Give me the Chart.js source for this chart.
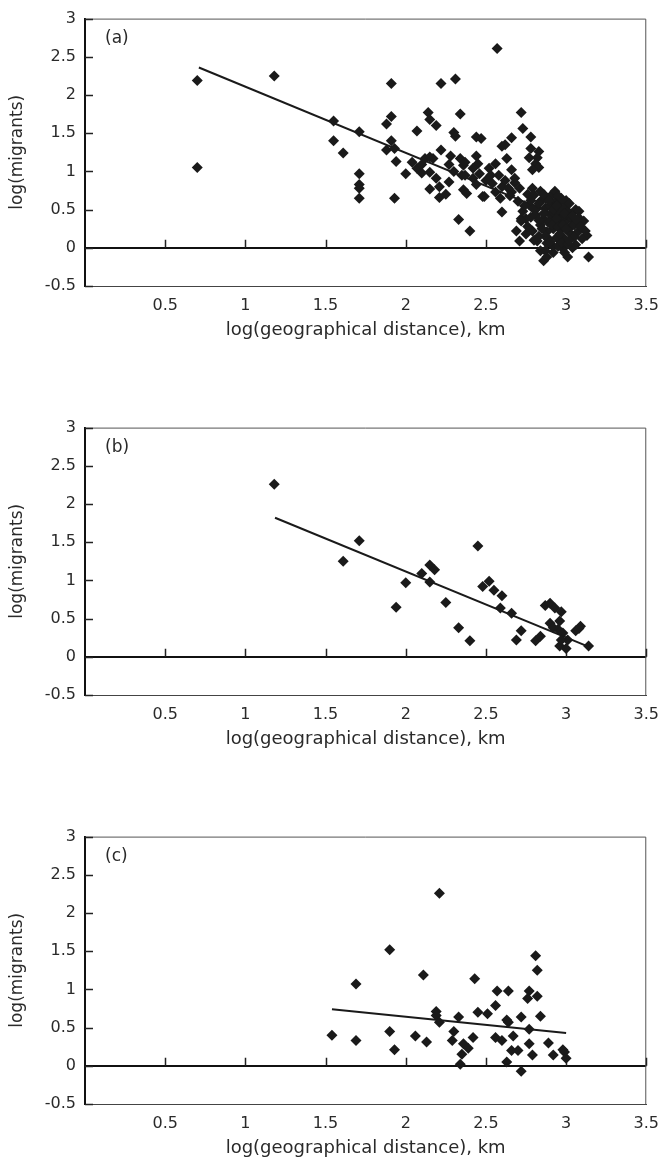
<!DOCTYPE html>
<html>
<head>
<meta charset="utf-8">
<script src="https://cdn.jsdelivr.net/npm/chart.js@4/dist/chart.umd.min.js"></script>
<style>
  body { margin: 0; background: #fff; }
  .panel { position: absolute; left: 0; width: 669px; height: 358px; }
</style>
</head>
<body>
<div class="panel" style="top:0px"><canvas id="chartA"></canvas></div>
<div class="panel" style="top:409px"><canvas id="chartB"></canvas></div>
<div class="panel" style="top:818px"><canvas id="chartC"></canvas></div>
<script>
// tick values
const xTicks = [0.5, 1, 1.5, 2, 2.5, 3, 3.5];
const yTicks = [-0.5, 0, 0.5, 1, 1.5, 2, 2.5, 3];

// (a) all migrants
const aDist = [0.70,0.70,1.18,1.55,1.55,1.61,1.71,1.71,1.71,1.71,1.71,1.91,1.91,1.88,1.91,1.88,1.93,1.94,1.93,2.00,
  2.07,2.07,2.10,2.12,2.14,2.15,2.19,2.15,2.17,2.15,2.19,2.15,2.21,2.21,2.25,2.22,2.22,2.31,2.34,2.30,
  2.31,2.28,2.27,2.34,2.36,2.37,2.35,2.37,2.36,2.38,2.33,2.40,2.44,2.47,2.44,2.45,2.42,2.42,2.46,2.44,
  2.48,2.52,2.53,2.56,2.54,2.58,2.60,2.59,2.60,2.57,2.60,2.62,2.66,2.63,2.66,2.68,2.64,2.66,2.65,2.71,
  2.72,2.73,2.78,2.78,2.83,2.77,2.82,2.81,2.83,2.79,2.70,2.73,2.72,2.69,2.71,2.77,2.79,2.76,2.75,2.75,
  2.80,2.81,2.79,2.82,2.84,2.86,2.88,2.84,2.84,2.87,2.87,2.86,2.84,2.88,2.90,2.91,2.93,2.93,2.93,2.94,
  2.96,2.97,2.96,2.97,2.99,3.01,3.00,3.02,3.04,3.01,2.98,3.03,3.06,3.08,3.08,3.11,3.12,3.13,3.14,3.07,
  3.10,3.06,2.89,2.88,2.92,2.95,2.91,2.93,2.49,2.72,2.87,2.90,2.95,2.98,2.92,2.99,3.03,2.86,2.95,3.00,
  2.89,2.97,3.05,2.82,2.78,2.74,2.83,2.68,2.62,2.56,2.50,2.30,2.27,2.10,2.04,
  2.80,2.83,2.85,2.87,2.90,2.91,2.92,2.94,2.95,2.96,2.98,2.99,3.00,3.01,3.02,3.04,3.05,3.07,3.09,2.94,
  2.89,2.86,2.78,2.76,2.80,2.83,2.97,3.02,2.92,2.99];
const aMig = [2.19,1.05,2.25,1.66,1.40,1.24,1.52,0.97,0.83,0.78,0.65,2.15,1.72,1.62,1.40,1.28,1.30,1.13,0.65,0.97,
  1.53,1.04,1.09,1.17,1.77,1.68,1.60,1.19,1.17,0.99,0.91,0.77,0.80,0.66,0.70,2.15,1.28,2.21,1.75,1.51,
  1.46,1.20,1.09,1.17,1.08,1.12,0.95,0.95,0.76,0.71,0.37,0.22,1.45,1.43,1.20,1.10,1.04,0.91,0.97,0.83,
  0.67,1.04,0.95,1.10,0.84,0.95,0.80,0.65,0.47,2.61,1.33,1.35,1.44,1.17,1.02,0.91,0.78,0.73,0.68,0.78,
  1.77,1.56,1.45,1.30,1.26,1.18,1.18,1.10,1.05,1.02,0.61,0.48,0.38,0.22,0.09,0.56,0.78,0.70,0.38,0.18,
  0.69,0.43,0.22,0.09,-0.04,-0.17,-0.12,0.61,0.74,0.65,0.52,0.38,0.30,0.21,0.44,0.69,0.74,0.60,0.30,0.13,
  0.60,0.44,0.36,0.24,0.53,0.48,0.35,0.20,0.00,-0.12,-0.01,0.39,0.50,0.48,0.39,0.35,0.22,0.16,-0.12,0.20,
  0.12,0.04,0.12,0.06,0.02,0.02,0.38,0.45,0.67,0.35,-0.04,0.55,0.50,0.40,0.25,0.12,0.28,0.45,0.68,0.62,
  0.33,0.07,0.14,0.52,0.62,0.55,0.36,0.85,0.88,0.73,0.88,1.00,0.86,0.98,1.12,
  0.50,0.58,0.25,0.15,0.08,0.30,0.50,0.38,0.27,0.18,0.30,0.45,0.25,0.05,0.58,0.42,0.30,0.36,0.28,0.55,
  0.62,0.70,0.40,0.28,0.10,0.15,0.65,0.10,-0.06,-0.06];
const aFitX = [0.71, 3.10];
const aFitY = [2.36, 0.29];

// (b)
const bDist = [1.18,1.71,1.61,1.94,2.00,2.10,2.15,2.18,2.15,2.25,2.33,2.40,2.45,2.48,2.52,2.55,2.60,2.59,2.66,2.72,
  2.69,2.81,2.84,2.87,2.90,2.93,2.97,2.90,2.96,2.95,2.98,3.01,2.96,3.00,3.06,3.09,3.08,3.14,2.92,2.97];
const bMig = [2.26,1.52,1.25,0.65,0.97,1.09,1.20,1.14,0.98,0.71,0.38,0.21,1.45,0.92,0.99,0.87,0.80,0.64,0.57,0.34,
  0.22,0.21,0.27,0.67,0.70,0.64,0.59,0.44,0.47,0.36,0.31,0.22,0.14,0.11,0.34,0.40,0.37,0.14,0.38,0.22];
const bFitX = [1.185, 3.12];
const bFitY = [1.82, 0.15];

// (c)
const cDist = [1.69,1.54,1.69,2.21,1.90,2.11,2.43,2.81,2.82,2.57,2.64,2.77,2.76,2.82,2.56,2.51,2.45,2.19,2.19,2.21,
  2.33,2.63,2.64,2.72,2.84,2.77,1.90,1.93,2.06,2.13,2.30,2.29,2.36,2.39,2.35,2.34,2.42,2.56,2.60,2.67,
  2.66,2.70,2.63,2.72,2.77,2.79,2.89,2.92,2.98,2.99,3.00];
const cMig = [1.07,0.40,0.33,2.26,1.52,1.19,1.14,1.44,1.25,0.98,0.98,0.98,0.88,0.91,0.79,0.68,0.70,0.71,0.66,0.57,
  0.64,0.60,0.57,0.64,0.65,0.48,0.45,0.21,0.39,0.31,0.45,0.33,0.29,0.23,0.15,0.02,0.37,0.37,0.33,0.39,
  0.20,0.20,0.05,-0.07,0.29,0.14,0.30,0.14,0.21,0.18,0.10];
const cFitX = [1.54, 3.00];
const cFitY = [0.74, 0.43];

const fontFamily = '"DejaVu Sans", sans-serif';
const textColor = '#2a2a2a';

const framePlugin = {
    id: 'frame',
    beforeDatasetsDraw(chart) {
        const ctx = chart.ctx;
        const a = chart.chartArea;
        const xs = chart.scales.x;
        const ys = chart.scales.y;
        ctx.save();
        ctx.strokeStyle = '#555';
        ctx.lineWidth = 1;
        ctx.beginPath();
        ctx.moveTo(a.left, a.top + 0.5);
        ctx.lineTo(a.right - 0.5, a.top + 0.5);
        ctx.lineTo(a.right - 0.5, a.bottom);
        ctx.stroke();
        // small inner tick marks
        ctx.strokeStyle = '#222';
        ctx.lineWidth = 1.5;
        const zero = ys.getPixelForValue(0);
        ctx.beginPath();
        xTicks.forEach((v) => {
            const px = Math.round(xs.getPixelForValue(v)) + 0.5;
            ctx.moveTo(px, zero);
            ctx.lineTo(px, zero - 8);
        });
        yTicks.forEach((v) => {
            const py = Math.round(ys.getPixelForValue(v)) + 0.5;
            ctx.moveTo(a.left, py);
            ctx.lineTo(a.left + 8, py);
        });
        ctx.stroke();
        ctx.restore();
    },
    afterDraw(chart) {
        const ctx = chart.ctx;
        const a = chart.chartArea;
        ctx.save();
        ctx.fillStyle = textColor;
        ctx.font = '17px ' + fontFamily;
        ctx.textBaseline = 'middle';
        ctx.fillText(chart.options.plugins.frame.label, a.left + 20, a.top + 20);
        ctx.restore();
    }
};

function makeChart(id, label, xs, ys, fitX, fitY) {
    const points = xs.map((x, i) => ({ x: x, y: ys[i] }));
    const fit = fitX.map((x, i) => ({ x: x, y: fitY[i] }));
    const ctx = document.getElementById(id).getContext('2d');
    return new Chart(ctx, {
        data: {
            datasets: [{
                type: 'scatter',
                data: points,
                pointStyle: 'rectRot',
                pointRadius: 5.5,
                backgroundColor: '#1a1a1a',
                borderWidth: 0,
                order: 1
            }, {
                type: 'line',
                data: fit,
                borderColor: '#1a1a1a',
                borderWidth: 2,
                pointRadius: 0,
                fill: false,
                order: 2
            }]
        },
        options: {
            responsive: true,
            maintainAspectRatio: false,
            animation: false,
            events: [],
            layout: { padding: { top: 15, right: 17, left: 0, bottom: 0 } },
            plugins: {
                legend: { display: false },
                tooltip: { enabled: false },
                frame: { label: label }
            },
            scales: {
                x: {
                    type: 'linear',
                    min: 0,
                    max: 3.5,
                    ticks: {
                        stepSize: 0.5,
                        padding: 10,
                        color: textColor,
                        font: { family: fontFamily, size: 16 },
                        callback: (v) => v === 0 ? '' : String(v)
                    },
                    grid: { display: false, drawTicks: false },
                    border: { color: '#444', width: 1 },
                    title: {
                        display: true,
                        text: 'log(geographical distance), km',
                        color: textColor,
                        font: { family: fontFamily, size: 18 },
                        padding: { top: 0, bottom: 17 }
                    },
                    afterFit: (s) => { s.height = 72; }
                },
                y: {
                    min: -0.5,
                    max: 3,
                    ticks: {
                        stepSize: 0.5,
                        padding: 9,
                        color: textColor,
                        font: { family: fontFamily, size: 16 },
                        callback: (v) => String(v)
                    },
                    grid: {
                        drawTicks: false,
                        lineWidth: 2,
                        color: (c) => c.tick && c.tick.value === 0 ? '#111' : 'rgba(0,0,0,0)'
                    },
                    border: { color: '#111', width: 2 },
                    title: {
                        display: true,
                        text: 'log(migrants)',
                        color: textColor,
                        font: { family: fontFamily, size: 17 },
                        padding: { top: 7, bottom: 0 }
                    },
                    afterFit: (s) => { s.width = 85; }
                }
            }
        },
        plugins: [framePlugin]
    });
}

makeChart('chartA', '(a)', aDist, aMig, aFitX, aFitY);
makeChart('chartB', '(b)', bDist, bMig, bFitX, bFitY);
makeChart('chartC', '(c)', cDist, cMig, cFitX, cFitY);
</script>
</body>
</html>
